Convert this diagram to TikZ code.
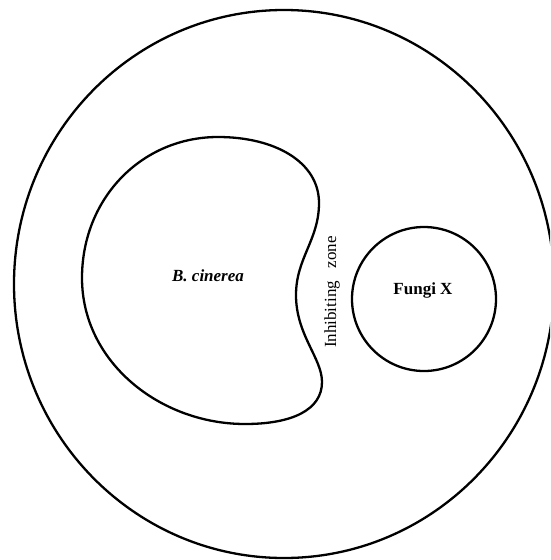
\documentclass[tikz,border=0pt]{standalone}
\usepackage{fontspec}
\setmainfont{Liberation Serif}
\begin{document}
\begin{tikzpicture}[x=1pt,y=-1pt,
  outline/.style={draw=black,line width=2.3pt},
  lbl/.style={font=\fontsize{17}{20}\selectfont,inner sep=0pt}]
\useasboundingbox (0,0) rectangle (550,560);
\begin{scope}
\clip (0,0) rectangle (550,560);
\draw[outline] (284,284) ellipse [x radius=270, y radius=274];
\end{scope}
% B. cinerea colony
\draw[outline] (218,137)
  .. controls (275,137) and (319,162) .. (319,203)
  .. controls (319,240) and (296,258) .. (296,295)
  .. controls (296,335) and (322,358) .. (322,382)
  .. controls (322,410) and (292,424) .. (245,424)
  .. controls (160,424) and (82,362) .. (82,278)
  .. controls (82,198) and (142,137) .. (218,137) -- cycle;
\node[outline,circle,minimum size=144pt,inner sep=0pt] (fx) at (424,299) {};
\node[lbl] (bc) at (208,276) {\bfseries\itshape B. cinerea};
\node[lbl] (fxl) at (423,290) {\bfseries Fungi X};
\node[lbl,rotate=90] (iz) at (332,292) {Inhibiting\hspace{0.75em}zone};
\end{tikzpicture}
\end{document}
